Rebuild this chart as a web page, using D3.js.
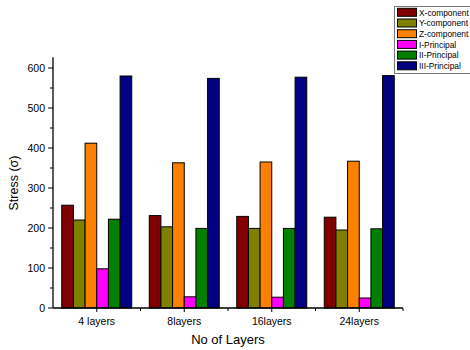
<!DOCTYPE html>
<html lang="en">
<head>
<meta charset="UTF-8">
<title>Stress vs layers</title>
<script src="https://cdn.jsdelivr.net/npm/d3@7/dist/d3.min.js"></script>
<style>
    body { margin: 0; background: #fff; }
    svg { font-family: "Liberation Sans", Arial, sans-serif; }
    .bar { stroke: #000; stroke-width: 1; }
</style>
</head>
<body>
<script>
    const width = 470;
    const height = 350;

    const categories = ["4 layers", "8layers", "16layers", "24layers"];
    const series = ["X-component", "Y-component", "Z-component", "I-Principal", "II-Principal", "III-Principal"];
    const colors = ["#800000", "#808000", "#ff8000", "#ff00ff", "#008000", "#000080"];

    const xComp   = [257, 231, 229, 227];
    const yComp   = [220, 203, 199, 195];
    const zComp   = [412, 363, 365, 367];
    const iPrin   = [98, 28, 27, 25];
    const iiPrin  = [222, 199, 199, 198];
    const iiiPrin = [580, 574, 577, 581];
    const values = [xComp, yComp, zComp, iPrin, iiPrin, iiiPrin];

    const yTicks = [0, 100, 200, 300, 400, 500, 600];

    const svg = d3.select("body").append("svg")
        .attr("width", width).attr("height", height);

    const left = 53, right = 403, bottom = 308;
    const y = d3.scaleLinear().domain([0, 600]).range([bottom, 68]);
    const yTop = y(627);

    const x = d3.scaleBand().domain(categories).range([left, right]);
    const inner = d3.scaleBand().domain(series).range([0, 70]);
    const groupOffset = (x.bandwidth() - 70) / 2;

    // bars
    categories.forEach((c, ci) => {
        const g = svg.append("g").attr("transform", `translate(${x(c) + groupOffset},0)`);
        series.forEach((s, si) => {
            const v = values[si][ci];
            g.append("rect")
                .attr("class", "bar")
                .attr("x", inner(s))
                .attr("y", y(v))
                .attr("width", inner.bandwidth())
                .attr("height", bottom - y(v))
                .attr("fill", colors[si]);
        });
    });

    // y axis
    const yAxis = svg.append("g");
    yAxis.append("line")
        .attr("x1", left).attr("x2", left).attr("y1", yTop).attr("y2", bottom)
        .attr("stroke", "#000").attr("stroke-width", 1.3);
    d3.range(50, 627, 100).forEach(v => {
        yAxis.append("line").attr("x1", left - 3).attr("x2", left)
            .attr("y1", y(v)).attr("y2", y(v)).attr("stroke", "#000");
    });
    yTicks.forEach(v => {
        yAxis.append("line").attr("x1", left - 5).attr("x2", left)
            .attr("y1", y(v)).attr("y2", y(v)).attr("stroke", "#000");
        yAxis.append("text").attr("x", left - 8).attr("y", y(v) + 3.8)
            .attr("text-anchor", "end").attr("font-size", 10.5).text(v);
    });

    // x axis
    const xAxis = svg.append("g");
    xAxis.append("line")
        .attr("x1", left).attr("x2", right).attr("y1", bottom).attr("y2", bottom)
        .attr("stroke", "#000").attr("stroke-width", 1.3);
    categories.forEach((c, i) => {
        const cx = x(c) + x.bandwidth() / 2;
        xAxis.append("line").attr("x1", cx).attr("x2", cx)
            .attr("y1", bottom).attr("y2", bottom + 4).attr("stroke", "#000");
        xAxis.append("text").attr("x", cx).attr("y", bottom + 17)
            .attr("text-anchor", "middle").attr("font-size", 10.5).text(c);
        if (i > 0) {
            xAxis.append("line").attr("x1", x(c)).attr("x2", x(c))
                .attr("y1", bottom).attr("y2", bottom + 3).attr("stroke", "#000");
        }
    });
    xAxis.append("line").attr("x1", right).attr("x2", right)
        .attr("y1", bottom).attr("y2", bottom + 3).attr("stroke", "#000");

    // axis titles
    svg.append("text")
        .attr("x", (left + right) / 2).attr("y", 344)
        .attr("text-anchor", "middle").attr("font-size", 13).text("No of Layers");
    svg.append("text")
        .attr("transform", "translate(18,183) rotate(-90)")
        .attr("text-anchor", "middle").attr("font-size", 12.5).text("Stress (\u03c3)");

    // legend
    const legend = svg.append("g");
    legend.append("rect")
        .attr("x", 394.5).attr("y", 6.5).attr("width", 80).attr("height", 67)
        .attr("fill", "#fff").attr("stroke", "#777");
    series.forEach((s, i) => {
        const cy = 12.3 + i * 10.7;
        legend.append("rect").attr("x", 397.5).attr("y", cy - 4)
            .attr("width", 19).attr("height", 8)
            .attr("fill", colors[i]).attr("stroke", "#000");
        legend.append("text").attr("x", 419).attr("y", cy + 3.2)
            .attr("font-size", 8.4).text(s);
    });
</script>
</body>
</html>
